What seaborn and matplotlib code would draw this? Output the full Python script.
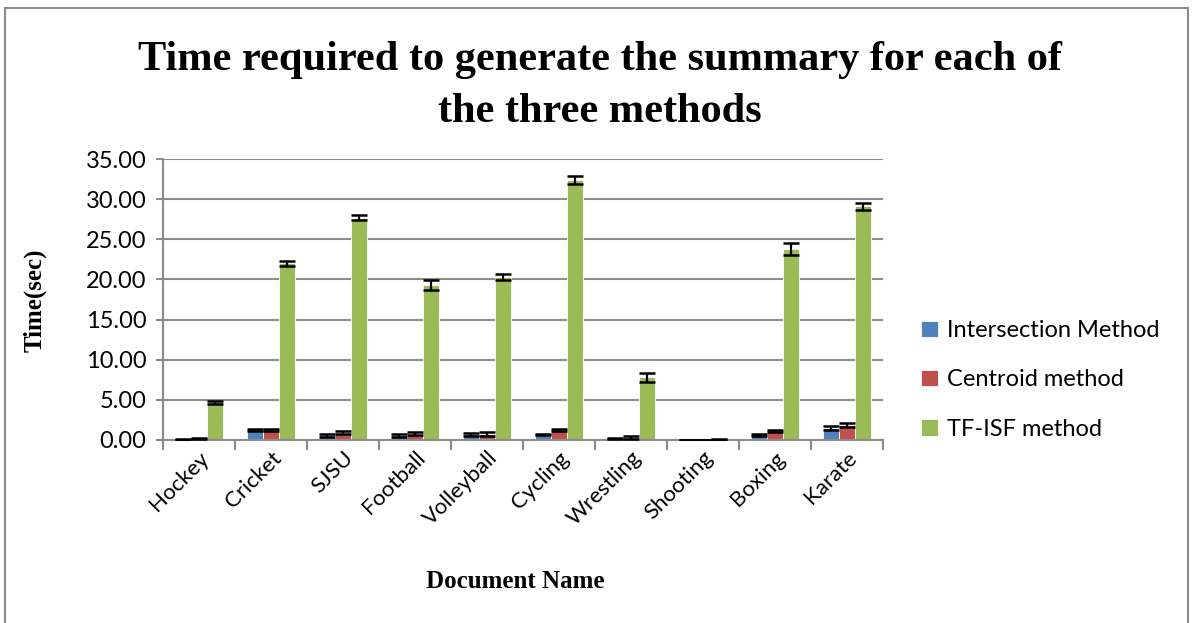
import numpy as np
import pandas as pd
import seaborn as sns
import matplotlib
matplotlib.use('Agg')
import matplotlib.pyplot as plt
from matplotlib.patches import Rectangle
from matplotlib.ticker import FormatStrFormatter, FixedLocator

# data
documents = ["Hockey", "Cricket", "SJSU", "Football", "Volleyball",
             "Cycling", "Wrestling", "Shooting", "Boxing", "Karate"]
methods = ["Intersection Method", "Centroid method", "TF-ISF method"]

intersection = [0.10, 1.20, 0.60, 0.60, 0.70, 0.70, 0.15, 0.02, 0.60, 1.50]
centroid = [0.15, 1.20, 0.90, 0.80, 0.75, 1.20, 0.35, 0.02, 1.10, 1.90]
tfisf = [4.70, 22.00, 27.70, 19.30, 20.30, 32.40, 7.80, 0.05, 23.80, 29.10]

intersection_err = [0.05, 0.12, 0.20, 0.20, 0.20, 0.10, 0.08, 0.03, 0.10, 0.30]
centroid_err = [0.05, 0.12, 0.20, 0.20, 0.20, 0.12, 0.20, 0.03, 0.12, 0.25]
tfisf_err = [0.20, 0.30, 0.35, 0.60, 0.35, 0.50, 0.60, 0.05, 0.70, 0.40]

colors = ["#4F81BD", "#C0504D", "#9BBB59"]

df = pd.DataFrame({
    "Document": documents * 3,
    "Method": np.repeat(methods, len(documents)),
    "Time": intersection + centroid + tfisf,
})
errors = [intersection_err, centroid_err, tfisf_err]

sns.set_style("white")
plt.rcParams['font.family'] = ['Lato', 'DejaVu Sans']
plt.rcParams['text.color'] = 'black'
plt.rcParams['xtick.color'] = 'black'
plt.rcParams['ytick.color'] = 'black'

fig = plt.figure(figsize=(11.94, 6.23), dpi=100)
ax = fig.add_axes([163 / 1194, 1 - 440 / 623, 720 / 1194, 281 / 623])

sns.barplot(data=df, x="Document", y="Time", hue="Method", palette=colors,
            errorbar=None, width=0.67, saturation=1, ax=ax,
            edgecolor="white", linewidth=0.6)

# error bars on top of each bar
for cont, err in zip(ax.containers, errors):
    xs = [p.get_x() + p.get_width() / 2 for p in cont.patches]
    hs = [p.get_height() for p in cont.patches]
    ax.errorbar(xs, hs, yerr=err, fmt='none', ecolor='black',
                elinewidth=1.6, capsize=6, capthick=1.8, zorder=5)

ax.set_ylim(0, 35)
ax.set_xlim(-0.5, len(documents) - 0.5)
ax.set_yticks(np.arange(0, 36, 5))
ax.yaxis.set_major_formatter(FormatStrFormatter('%.2f'))
ax.yaxis.grid(True, color="#8c8c8c", linewidth=1.5)
ax.set_axisbelow(True)

for side in ["top", "right"]:
    ax.spines[side].set_visible(False)
for side in ["left", "bottom"]:
    ax.spines[side].set_color("#8c8c8c")
    ax.spines[side].set_linewidth(1.5)

ax.tick_params(axis='y', which='major', left=True, length=5, width=1.5,
               color="#8c8c8c", labelcolor='black', labelsize=17, pad=7)
ax.tick_params(axis='x', which='major', bottom=False, labelsize=16, pad=2,
               labelcolor='black')
ax.xaxis.set_minor_locator(FixedLocator(np.arange(-0.5, len(documents), 1)))
ax.tick_params(axis='x', which='minor', bottom=True, length=7, width=1.5,
               color="#8c8c8c")
for lab in ax.get_xticklabels():
    lab.set_rotation(45)
    lab.set_ha('right')
    lab.set_rotation_mode('anchor')

ax.set_xlabel("")
ax.set_ylabel("")

serif = ['Liberation Serif', 'DejaVu Serif']
fig.text(600 / 1194, 1 - 70 / 623, "Time required to generate the summary for each of",
         ha='center', va='baseline', fontsize=30.5, fontweight='bold', family=serif,
         color='black')
fig.text(600 / 1194, 1 - 122 / 623, "the three methods",
         ha='center', va='baseline', fontsize=30.5, fontweight='bold', family=serif,
         color='black')
fig.text(35 / 1194, 1 - 300 / 623, "Time(sec)", rotation=90, ha='center', va='center',
         fontsize=18, fontweight='bold', family=serif, color='black')
fig.text(515 / 1194, 1 - 581 / 623, "Document Name", ha='center', va='center',
         fontsize=18, fontweight='bold', family=serif, color='black')

ax.legend(loc='center left', bbox_to_anchor=(900 / 1194, 1 - 380 / 623),
          bbox_transform=fig.transFigure, frameon=False, fontsize=17,
          handlelength=0.7, handleheight=0.7, handletextpad=0.4,
          labelspacing=1.2)

fig.patches.append(Rectangle((5 / 1194, -0.01), 1183 / 1194, 1 - 8 / 623 + 0.01,
                             transform=fig.transFigure, fill=False,
                             edgecolor="#8c8c8c", linewidth=1.5))

fig.savefig("out.png", dpi=100)
